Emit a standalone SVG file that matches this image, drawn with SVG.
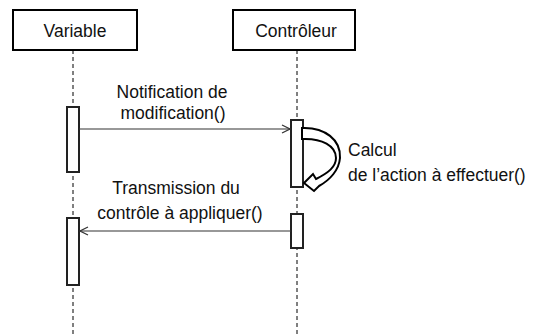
<svg xmlns="http://www.w3.org/2000/svg" width="538" height="335" viewBox="0 0 538 335">
  <style>
    .head { fill: #fff; stroke: #000; stroke-width: 2; }
    .life { stroke: #000; stroke-width: 1; stroke-dasharray: 4 3; fill: none; }
    .act { fill: #fff; stroke: #222; stroke-width: 2; }
    .msg { stroke: #333; stroke-width: 1.2; fill: none; }
    text { font-family: "Liberation Sans", Arial, sans-serif; font-size: 17.5px; fill: #111; }
  </style>
  <defs>
    <marker id="open" markerWidth="10" markerHeight="10" refX="9" refY="5" orient="auto" markerUnits="userSpaceOnUse">
      <path d="M1,1 L9,5 L1,9" fill="none" stroke="#333" stroke-width="1.2"/>
    </marker>
  </defs>

  <rect width="538" height="335" fill="#fff"/>

  <!-- lifelines -->
  <g id="lifelines">
    <line class="life" x1="73" y1="50" x2="73" y2="335"/>
    <line class="life" x1="297" y1="50" x2="297" y2="335"/>
  </g>

  <g id="variable">
    <rect class="head" x="13" y="10" width="124" height="40"/>
    <text x="75" y="37" text-anchor="middle">Variable</text>
    <rect class="act" x="67" y="107" width="12" height="65"/>
    <rect class="act" x="67" y="218" width="12" height="67"/>
  </g>

  <g id="controleur">
    <rect class="head" x="233" y="10" width="122" height="40"/>
    <text x="296" y="37" text-anchor="middle">Contrôleur</text>
    <rect class="act" x="291" y="120" width="12" height="67"/>
    <rect class="act" x="291" y="214" width="12" height="34"/>
  </g>

  <!-- messages -->
  <g id="connectors">
    <line class="msg" x1="79" y1="129" x2="290" y2="129" marker-end="url(#open)"/>
    <line class="msg" x1="291" y1="231" x2="80" y2="231" marker-end="url(#open)"/>
    <!-- self call: curved block arrow -->
    <path d="M302,128 C325,127 341,140 340,158 C339,170 330,180 319,186 L314,191 L304,183 L313,174 L316,179 C328,173 336,167 336,158 C336,146 322,138 302,139 Z" fill="#fff" stroke="#000" stroke-width="2" stroke-linejoin="miter"/>
  </g>

  <g id="labels">
    <text x="172" y="98" text-anchor="middle">Notification de</text>
    <text x="173" y="119" text-anchor="middle">modification()</text>
    <text x="348" y="156">Calcul</text>
    <text x="348" y="181">de l’action à effectuer()</text>
    <text x="176" y="194" text-anchor="middle">Transmission du</text>
    <text x="180" y="219" text-anchor="middle">contrôle à appliquer()</text>
  </g>
</svg>
